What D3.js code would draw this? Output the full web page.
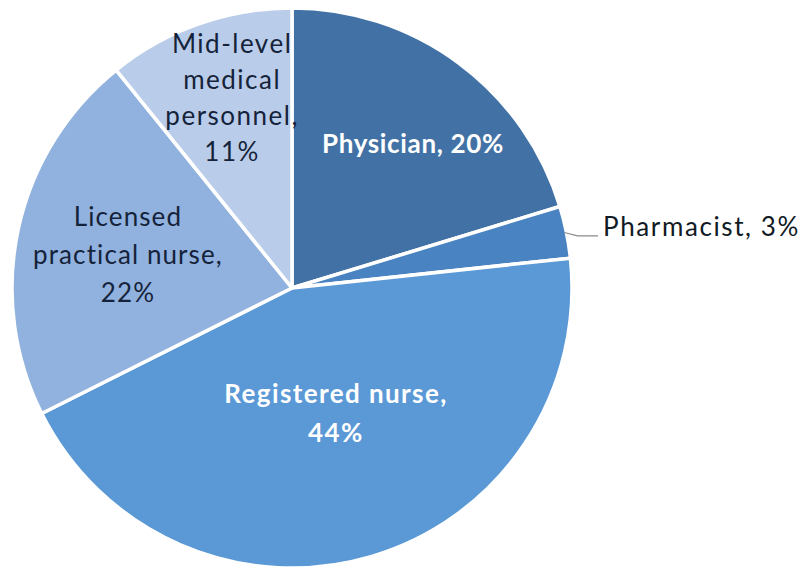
<!DOCTYPE html>
<html>
<head>
<meta charset="utf-8">
<script src="https://cdn.jsdelivr.net/npm/d3@7/dist/d3.min.js"></script>
<style>
  html, body { margin: 0; padding: 0; background: #fff; }
  svg { display: block; }
</style>
</head>
<body>
<svg id="chart" width="801" height="571"></svg>
<script>
// ---- data ----
const categories = ["Physician", "Pharmacist", "Registered nurse", "Licensed practical nurse", "Mid-level medical personnel"];
const values = [20.3, 3.0, 44.3, 21.6, 10.8];
const shownPercent = ["20%", "3%", "44%", "22%", "11%"];
const labelLines = [
  ["Physician, 20%"],
  ["Pharmacist, 3%"],
  ["Registered nurse,", "44%"],
  ["Licensed", "practical nurse,", "22%"],
  ["Mid-level", "medical", "personnel,", "11%"]
];

// ---- styles / layout ----
const colors = ["#4272a5", "#4a83c2", "#5a98d6", "#91b2de", "#b9cce9"];
const textColors = ["#ffffff", "#111a24", "#ffffff", "#15233a", "#15233a"];
const fontWeights = ["bold", "normal", "bold", "normal", "normal"];
const letterSpacing = [0.65, 1.6, 1.4, 1.1, 1.5];
const cx = 292, cy = 288, R = 280;
// label anchor (first baseline) relative to centre, in units of radius
const labelOffset = [
  [0.432, -0.482], [1.111, -0.186], [0.157, 0.411], [-0.586, -0.221], [-0.214, -0.839]
];
const lineHeights = [0, 0, 39, 38, 36];
const anchors = ["middle", "start", "middle", "middle", "middle"];

const svg = d3.select("#chart");
const g = svg.append("g").attr("transform", `translate(${cx},${cy})`);

const pie = d3.pie().sort(null).value(d => d)(values);
const arc = d3.arc().innerRadius(0).outerRadius(R);

g.selectAll("path.slice")
  .data(pie)
  .join("path")
  .attr("class", "slice")
  .attr("d", arc)
  .attr("fill", (d, i) => colors[i])
  .attr("stroke", "#ffffff")
  .attr("stroke-width", 3.5)
  .attr("stroke-linejoin", "round");

// leader line for pharmacist (from slice edge to label)
{
  const d = pie[1];
  const a = (d.startAngle + d.endAngle) / 2;
  const p0 = [Math.sin(a) * (R - 2), -Math.cos(a) * (R - 2)];
  const lx = labelOffset[1][0] * R - 5;
  const ly = labelOffset[1][1] * R;
  const p1 = [p0[0] + 13, ly];
  g.append("path")
    .attr("d", d3.line()([p0, p1, [lx, ly]]))
    .attr("fill", "none")
    .attr("stroke", "#8a8a8a")
    .attr("stroke-width", 1.2);
}

labelLines.forEach((lines, i) => {
  const t = g.append("text")
    .attr("x", labelOffset[i][0] * R)
    .attr("y", labelOffset[i][1] * R)
    .attr("text-anchor", anchors[i])
    .attr("fill", textColors[i])
    .attr("font-family", "Lato, 'Open Sans', sans-serif")
    .attr("font-size", 26)
    .attr("letter-spacing", letterSpacing[i])
    .attr("font-weight", fontWeights[i]);
  lines.forEach((ln, j) => {
    t.append("tspan")
      .attr("x", labelOffset[i][0] * R)
      .attr("dy", j === 0 ? 0 : lineHeights[i])
      .text(ln);
  });
});
</script>
</body>
</html>
